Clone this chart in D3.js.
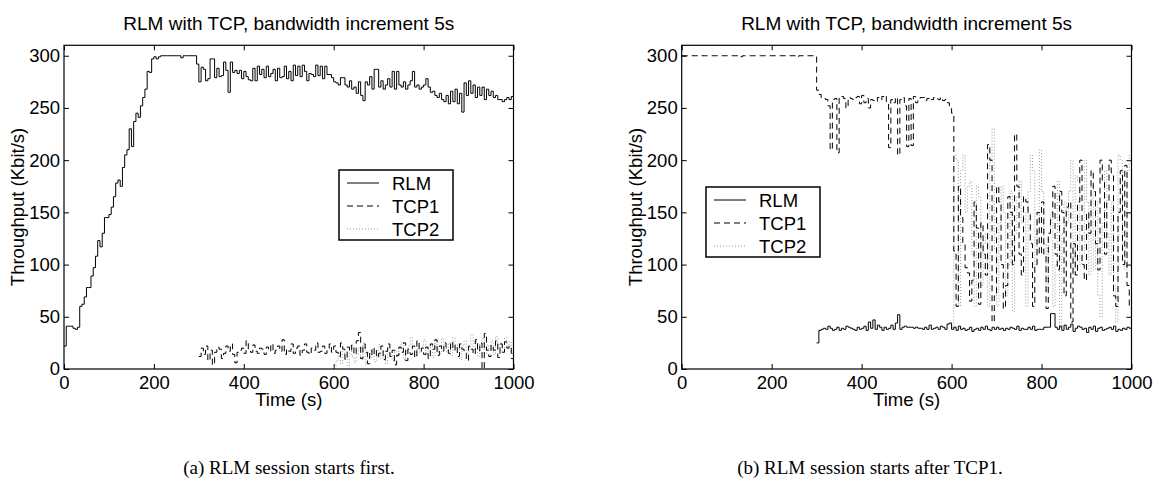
<!DOCTYPE html>
<html>
<head>
<meta charset="utf-8">
<script src="https://cdn.jsdelivr.net/npm/d3@7"></script>
<style>
  body { margin: 0; background: #fff; }
  .tick text { font-family: "Liberation Sans", Arial, sans-serif; font-size: 18.5px; fill: #000; }
  .tick line { stroke: #000; }
  .lbl { font-family: "Liberation Sans", Arial, sans-serif; font-size: 18.5px; fill: #000; }
  .ttl { font-family: "Liberation Sans", Arial, sans-serif; font-size: 19px; fill: #000; }
  .cap { font-family: "Liberation Serif", "Times New Roman", serif; font-size: 19px; fill: #000; }
</style>
</head>
<body>
<script>
// data, 5 s samples
const step = 5;
const xTicks = [0, 200, 400, 600, 800, 1000];
const yTicks = [0, 50, 100, 150, 200, 250, 300];

// panel (a): RLM starts first
const rlmAStart = 0;
const rlmA = [
  22,41,41,41,39,38,40,60,62,69,
  78,78,89,97,108,123,117,130,145,145,
  148,155,165,178,181,175,193,205,210,230,
  213,237,245,241,252,260,268,285,284,297,
  299,297,299,300,300,300,300,300,300,300,
  300,300,298,300,300,300,300,300,300,292,
  275,289,287,276,278,297,297,279,288,280,
  281,294,286,265,294,284,286,283,286,278,
  285,280,277,276,288,276,290,282,287,279,
  290,280,283,287,276,288,279,280,290,278,
  285,276,291,281,290,280,291,285,276,283,
  282,280,291,281,290,278,290,282,282,279,
  275,274,272,279,279,272,270,276,268,270,
  264,275,262,257,275,272,280,268,287,287,
  270,276,268,272,278,270,285,268,285,272,
  270,275,268,272,276,285,270,272,268,270,
  272,278,270,265,266,262,260,264,258,256,
  262,254,266,256,268,254,264,246,274,262,
  276,264,272,260,270,262,270,258,268,262,
  266,260,262,258,258,256,258,260,258,261,
  175
];
const tcp1AStart = 300;
const tcp1A = [
  12,20,14,22,8,18,4,16,21,19,
  10,15,22,17,24,14,6,16,18,20,
  15,27,19,16,23,17,15,20,19,14,
  21,17,24,15,18,22,17,28,14,19,
  17,24,15,20,22,13,18,24,16,14,
  20,18,25,16,17,22,15,19,24,16,
  22,16,12,25,19,9,21,17,23,14,
  27,35,10,24,16,5,18,13,20,11,
  15,22,9,17,24,12,18,4,13,21,
  16,25,8,19,14,22,11,27,17,20,
  14,21,10,24,19,28,13,22,17,25,
  20,15,26,18,23,12,24,19,16,8,
  22,19,14,28,17,25,0,34,18,12,
  23,18,27,11,24,16,26,20,22,10
];
const tcp2AStart = 600;
const tcp2A = [
  2,8,15,5,18,10,3,22,12,6,
  14,20,9,25,4,16,11,19,7,13,
  23,10,17,5,21,14,8,18,12,20,
  26,9,15,22,30,18,12,25,16,21,
  28,14,20,24,11,27,19,15,29,22,
  17,25,13,30,20,24,9,22,27,16,
  21,33,18,26,12,24,29,15,23,19,
  27,14,31,20,25,17,30,22,26,15
];

// panel (b): RLM starts after TCP1
const rlmBStart = 300;
const rlmB = [
  25,37,38,39,38,41,39,37,38,40,
  37,39,38,41,40,39,38,37,40,38,
  39,41,37,45,39,47,38,42,40,37,
  40,38,39,42,38,44,52,38,40,41,
  40,40,40,39,40,39,39,38,40,38,
  42,38,39,40,38,41,40,38,43,44,
  38,40,37,41,38,39,37,38,40,36,
  38,39,37,40,38,41,38,37,40,38,
  40,38,39,37,39,38,40,39,38,41,
  37,39,38,38,40,38,41,37,38,38,
  38,40,40,40,53,53,40,38,41,37,
  42,38,40,43,36,39,41,40,38,39,
  35,40,38,41,36,39,40,37,38,39,
  40,38,41,36,38,37,39,38,40,39
];
const tcp1BStart = 0;
const tcp1B = [
  300,300,300,300,300,300,300,300,300,300,
  300,300,300,300,300,300,300,300,300,300,
  300,300,300,300,300,300,299,300,300,300,
  300,300,300,300,300,300,300,300,300,300,
  300,300,300,300,300,300,300,300,300,300,
  300,299,300,300,300,300,300,300,300,300,
  267,263,260,259,258,252,210,258,259,207,
  260,261,259,250,260,259,258,260,261,254,
  262,255,259,250,258,257,256,260,258,261,
  262,256,212,258,255,260,205,258,260,252,
  213,259,214,261,255,258,260,260,257,259,
  260,258,260,259,258,260,257,258,255,252,
  245,113,60,175,145,120,97,92,65,85,
  160,135,62,140,110,90,215,200,45,70,
  175,160,100,58,80,165,150,100,225,175,
  110,90,165,160,150,120,60,100,150,110,
  160,110,58,130,145,175,110,95,170,150,
  70,155,160,45,120,90,160,200,100,85,
  150,130,190,170,120,95,200,180,110,160,
  200,185,70,60,150,190,100,195,80,60
];
const tcp2BStart = 600;
const tcp2B = [
  40,205,200,60,190,205,150,175,180,110,
  60,175,165,80,120,130,60,200,230,115,
  60,140,175,150,70,100,170,55,130,165,
  180,140,150,60,170,205,190,100,140,210,
  170,120,75,130,150,60,100,180,40,130,
  160,140,170,200,90,185,180,100,110,200,
  160,90,175,95,160,70,50,140,190,130,
  90,160,80,45,205,200,120,95,190,205
];

const title = "RLM with TCP, bandwidth increment 5s";
const legendNames = ["RLM", "TCP1", "TCP2"];

const W = 1154, H = 492;
const styles = [
  { color: "#000", dash: null, width: 1 },
  { color: "#000", dash: "6,4", width: 1 },
  { color: "#999", dash: "1,2", width: 1 }
];

const svg = d3.select("body").append("svg").attr("width", W).attr("height", H);

function toPoints(start, vals) {
  let pts = vals.map((v, i) => [start + i * step, v]);
  let last = pts[pts.length - 1];
  if (last[0] < 1000) pts.push([1000, last[1]]);
  return pts;
}

function drawPanel(p) {
  let x = d3.scaleLinear().domain([0, 1000]).range([p.left, p.right]);
  let y = d3.scaleLinear().domain([0, 310]).range([369, 45.3]);
  let g = svg.append("g");

  g.append("g").attr("transform", "translate(0,369)")
    .call(d3.axisBottom(x).tickValues(xTicks).tickFormat(d3.format("d"))
      .tickSize(-5).tickSizeOuter(0).tickPadding(7))
    .call(a => a.select(".domain").remove());
  g.append("g").attr("transform", "translate(0,45.3)")
    .call(d3.axisTop(x).tickValues(xTicks).tickSize(-5).tickSizeOuter(0).tickFormat(""))
    .call(a => a.select(".domain").remove());
  g.append("g").attr("transform", `translate(${p.left},0)`)
    .call(d3.axisLeft(y).tickValues(yTicks).tickSize(-5).tickSizeOuter(0).tickPadding(4))
    .call(a => a.select(".domain").remove());
  g.append("g").attr("transform", `translate(${p.right},0)`)
    .call(d3.axisRight(y).tickValues(yTicks).tickSize(-5).tickSizeOuter(0).tickFormat(""))
    .call(a => a.select(".domain").remove());

  let line = d3.line().x(d => x(d[0])).y(d => y(d[1])).curve(d3.curveStepAfter);

  // draw order: TCP2 under, then TCP1, then RLM
  [2, 1, 0].forEach(k => {
    let s = p.series[k];
    g.append("path")
      .datum(toPoints(s.start, s.values))
      .attr("d", line)
      .attr("fill", "none")
      .attr("stroke", styles[k].color)
      .attr("stroke-width", styles[k].width)
      .attr("stroke-dasharray", styles[k].dash);
  });

  g.append("rect")
    .attr("x", p.left).attr("y", 45.3)
    .attr("width", p.right - p.left).attr("height", 369 - 45.3)
    .attr("fill", "none").attr("stroke", "#000").attr("stroke-width", 1.2);

  let cx = (p.left + p.right) / 2;
  g.append("text").attr("class", "ttl").attr("x", cx).attr("y", 30)
    .attr("text-anchor", "middle").text(title);
  g.append("text").attr("class", "lbl").attr("x", cx).attr("y", 406)
    .attr("text-anchor", "middle").text("Time (s)");
  g.append("text").attr("class", "lbl")
    .attr("transform", `translate(${p.left - 40},207) rotate(-90)`)
    .attr("text-anchor", "middle").text("Throughput (Kbit/s)");

  // legend
  let lg = g.append("g").attr("transform", `translate(${p.legX},${p.legY})`);
  lg.append("rect").attr("width", 114).attr("height", 70)
    .attr("fill", "#fff").attr("stroke", "#000").attr("stroke-width", 1.5);
  legendNames.forEach((n, k) => {
    let yy = 13 + k * 23;
    lg.append("line").attr("x1", 8).attr("x2", 40).attr("y1", yy).attr("y2", yy)
      .attr("stroke", styles[k].color).attr("stroke-width", 1)
      .attr("stroke-dasharray", styles[k].dash);
    lg.append("text").attr("class", "lbl").attr("x", 53).attr("y", yy + 6.5).text(n);
  });

  g.append("text").attr("class", "cap").attr("x", p.capX).attr("y", 474)
    .attr("text-anchor", "middle").text(p.caption);
}

drawPanel({
  left: 64, right: 513.5, legX: 339, legY: 170, capX: 289,
  caption: "(a) RLM session starts first.",
  series: [
    { start: rlmAStart, values: rlmA },
    { start: tcp1AStart, values: tcp1A },
    { start: tcp2AStart, values: tcp2A }
  ]
});
drawPanel({
  left: 681.7, right: 1131.5, legX: 706, legY: 187, capX: 870,
  caption: "(b) RLM session starts after TCP1.",
  series: [
    { start: rlmBStart, values: rlmB },
    { start: tcp1BStart, values: tcp1B },
    { start: tcp2BStart, values: tcp2B }
  ]
});
</script>
</body>
</html>
